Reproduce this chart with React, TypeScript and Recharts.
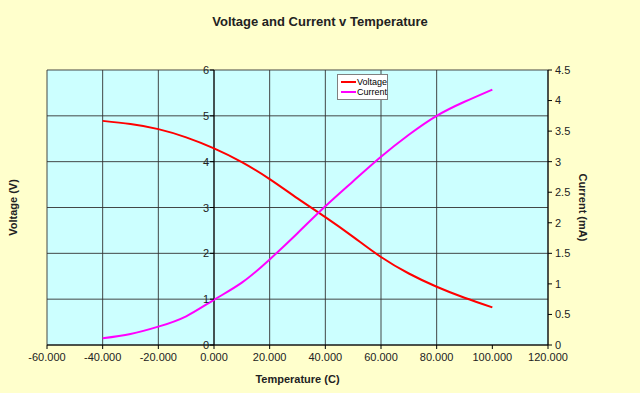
import React from 'react';
import { LineChart, Line, XAxis, YAxis, CartesianGrid, ReferenceLine, Legend } from 'recharts';

const temperatures = [-40, -30, -20, -10, 0, 10, 20, 30, 40, 50, 60, 70, 80, 90, 100];
const voltage = [4.89, 4.82, 4.71, 4.53, 4.29, 3.99, 3.62, 3.2, 2.79, 2.36, 1.92, 1.56, 1.27, 1.03, 0.82];
const current = [0.11, 0.18, 0.3, 0.47, 0.74, 1.02, 1.4, 1.83, 2.27, 2.68, 3.08, 3.44, 3.75, 3.98, 4.18];
const xTicks = [-60, -40, -20, 0, 20, 40, 60, 80, 100, 120];
const voltageTicks = [0, 1, 2, 3, 4, 5, 6];
const currentTicks = [0, 0.5, 1, 1.5, 2, 2.5, 3, 3.5, 4, 4.5];

const data = temperatures.map((t, i) => ({ t, voltage: voltage[i], current: current[i] }));

const W = 640;
const H = 393;
const L_AXIS_W = 47;
const M_TOP = 70;
const R_AXIS_W = 92;
const X_AXIS_H = 48;
const PLOT_W = W - L_AXIS_W - R_AXIS_W;
const XMIN = -60;
const XMAX = 120;
const X0 = L_AXIS_W + (PLOT_W * (0 - XMIN)) / (XMAX - XMIN);

const FONT = 'Arial, "Liberation Sans", sans-serif';

const VTick = (props: any) => {
  const { y, payload } = props;
  return (
    <g>
      <line x1={X0 - 4} x2={X0} y1={y} y2={y} stroke="#000" />
      <text x={X0 - 5} y={y} dy={4} textAnchor="end" fontSize={11} fontFamily={FONT} fill="#222">
        {payload.value}
      </text>
    </g>
  );
};

const LegendBox = () => (
  <div
    style={{
      background: '#fff',
      border: '1px solid #808080',
      width: 51,
      height: 26,
      fontFamily: FONT,
      fontSize: 9,
      color: '#000',
      boxSizing: 'border-box',
      padding: '2px 0 0 3px',
      lineHeight: '10px',
    }}
  >
    {[
      { name: 'Voltage', color: '#FF0000' },
      { name: 'Current', color: '#FF00FF' },
    ].map((e) => (
      <div key={e.name} style={{ display: 'flex', alignItems: 'center', height: 10 }}>
        <div style={{ width: 16, height: 2, background: e.color, marginRight: 1 }} />
        <span>{e.name}</span>
      </div>
    ))}
  </div>
);

export default function App() {
  return (
    <div style={{ position: 'absolute', left: 0, top: 0, width: W, height: H, background: '#FFFFCC' }}>
      <div
        style={{
          position: 'absolute',
          left: 0,
          top: 14,
          width: W,
          textAlign: 'center',
          fontFamily: FONT,
          fontWeight: 'bold',
          fontSize: 13,
          color: '#222',
        }}
      >
        Voltage and Current v Temperature
      </div>
      <LineChart width={W} height={H} data={data} margin={{ top: M_TOP, right: 0, left: 0, bottom: 0 }}>
        <CartesianGrid
          xAxisId="x"
          yAxisId="v"
          fill="#CCFFFF"
          stroke="#333"
          strokeOpacity={0.9}
          verticalValues={xTicks}
          horizontalValues={voltageTicks}
        />
        <XAxis
          xAxisId="x"
          dataKey="t"
          type="number"
          domain={[XMIN, XMAX]}
          ticks={xTicks}
          tickFormatter={(v: number) => v.toFixed(3)}
          height={X_AXIS_H}
          stroke="#000"
          tickSize={4}
          tickMargin={4}
          tick={{ fontSize: 11, fontFamily: FONT, fill: '#222' }}
          label={{
            value: 'Temperature (C)',
            position: 'insideBottom',
            offset: 10,
            fontSize: 11,
            fontWeight: 'bold',
            fontFamily: FONT,
            fill: '#222',
          }}
        />
        <YAxis
          yAxisId="v"
          orientation="left"
          width={L_AXIS_W}
          domain={[0, 6]}
          ticks={voltageTicks}
          axisLine={false}
          tickLine={false}
          tick={<VTick />}
          label={{
            content: (p: any) => {
              const vb = p.viewBox;
              const cx = vb.x + 13;
              const cy = vb.y + vb.height / 2;
              return (
                <text
                  x={cx}
                  y={cy}
                  transform={`rotate(-90 ${cx} ${cy})`}
                  textAnchor="middle"
                  dy={4}
                  fontSize={11}
                  fontWeight="bold"
                  fontFamily={FONT}
                  fill="#222"
                >
                  Voltage (V)
                </text>
              );
            },
          }}
        />
        <YAxis
          yAxisId="c"
          orientation="right"
          width={R_AXIS_W}
          domain={[0, 4.5]}
          ticks={currentTicks}
          stroke="#000"
          tickSize={4}
          tickMargin={3}
          tick={{ fontSize: 11, fontFamily: FONT, fill: '#222', textAnchor: 'start' }}
          label={{
            content: (p: any) => {
              const vb = p.viewBox;
              const cx = vb.x + 35;
              const cy = vb.y + vb.height / 2;
              return (
                <text
                  x={cx}
                  y={cy}
                  transform={`rotate(90 ${cx} ${cy})`}
                  textAnchor="middle"
                  dy={4}
                  fontSize={11}
                  fontWeight="bold"
                  fontFamily={FONT}
                  fill="#222"
                >
                  Current (mA)
                </text>
              );
            },
          }}
        />
        <ReferenceLine xAxisId="x" yAxisId="v" x={0} stroke="#000" />
        <Line
          xAxisId="x"
          yAxisId="v"
          dataKey="voltage"
          name="Voltage"
          type="natural"
          stroke="#FF0000"
          strokeWidth={2}
          dot={false}
          isAnimationActive={false}
        />
        <Line
          xAxisId="x"
          yAxisId="c"
          dataKey="current"
          name="Current"
          type="natural"
          stroke="#FF00FF"
          strokeWidth={2}
          dot={false}
          isAnimationActive={false}
        />
        <Legend
          layout="horizontal"
          align="center"
          verticalAlign="middle"
          content={<LegendBox />}
          wrapperStyle={{ position: 'absolute', left: 337, top: 74, width: 51, height: 26 }}
        />
      </LineChart>
    </div>
  );
}
